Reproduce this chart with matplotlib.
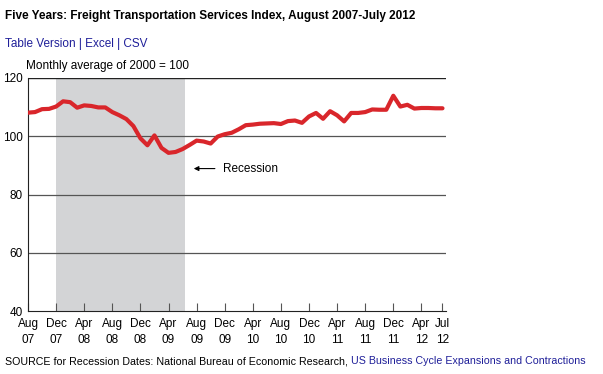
import matplotlib.pyplot as plt

plt.rcParams['font.family'] = ['Liberation Sans', 'DejaVu Sans']

# monthly index, Aug 2007 - Jul 2012
index_values = [108.1, 108.3, 109.3, 109.4, 110.2, 112.0, 111.7, 109.8, 110.6, 110.4,
                109.9, 109.9, 108.3, 107.2, 105.9, 103.5, 99.3, 96.9, 100.3, 96.0,
                94.3, 94.6, 95.6, 97.0, 98.5, 98.2, 97.5, 99.9, 100.7, 101.2,
                102.4, 103.8, 104.0, 104.3, 104.4, 104.5, 104.2, 105.2, 105.4, 104.6,
                106.8, 108.0, 106.0, 108.6, 107.2, 105.1, 108.0, 108.0, 108.3, 109.2,
                109.1, 109.1, 113.9, 110.2, 110.8, 109.5, 109.7, 109.7, 109.6, 109.6]
months = list(range(len(index_values)))

tick_pos = [0, 4, 8, 12, 16, 20, 24, 28, 32, 36, 40, 44, 48, 52, 56, 59]
tick_labels = ['Aug\n07', 'Dec\n07', 'Apr\n08', 'Aug\n08', 'Dec\n08', 'Apr\n09',
               'Aug\n09', 'Dec\n09', 'Apr\n10', 'Aug\n10', 'Dec\n10', 'Apr\n11',
               'Aug\n11', 'Dec\n11', 'Apr\n12', 'Jul\n12']
y_ticks = [40, 60, 80, 100, 120]

recession_start = 4     # Dec 2007
recession_end = 22.4    # Jun 2009

link_blue = '#1f1f99'

fig = plt.figure(figsize=(6.03, 3.74), dpi=100)
ax = fig.add_axes([28 / 603, 1 - 311 / 374, 418 / 603, 233 / 374])

ax.axvspan(recession_start, recession_end, color='#d3d4d6', lw=0, zorder=0)
for y in y_ticks[1:4]:
    ax.axhline(y, color='#555555', lw=0.9, zorder=1)
ax.axhline(120, color='#222222', lw=1.0, zorder=1)

ax.plot(months, index_values, color='#d9262b', lw=3.0, solid_capstyle='round',
        solid_joinstyle='round', zorder=3)

ax.set_xlim(0, 59.5)
ax.set_ylim(40, 120)
ax.set_yticks(y_ticks)
ax.set_xticks(tick_pos)
ax.set_xticklabels(tick_labels, linespacing=1.4)
ax.tick_params(axis='y', length=0, pad=4, labelsize=8.5)
ax.tick_params(axis='x', direction='in', length=6, width=0.8, color='#555555',
               pad=5, labelsize=8.5)
ax.spines['right'].set_visible(False)
ax.spines['top'].set_visible(False)
ax.spines['left'].set_color('#222222')
ax.spines['bottom'].set_color('#222222')

ax.annotate('', xy=(23.2, 88.9), xytext=(27.0, 88.9),
            arrowprops=dict(arrowstyle='-|>', color='black', lw=0.8,
                            mutation_scale=7))
ax.text(27.7, 88.9, 'Recession', fontsize=8.5, va='center', ha='left')

fig.text(5 / 603, 1 - 16 / 374, 'Five Years: Freight Transportation Services Index, August 2007-July 2012',
         fontsize=8.5, fontweight='bold', va='center', ha='left')
fig.text(5 / 603, 1 - 44 / 374, 'Table Version | Excel | CSV', fontsize=8.5,
         color=link_blue, va='center', ha='left')
fig.text(26 / 603, 1 - 66 / 374, 'Monthly average of 2000 = 100', fontsize=8.5,
         va='center', ha='left')

src = fig.text(5 / 603, 1 - 361 / 374, 'SOURCE for Recession Dates: National Bureau of Economic Research, ',
               fontsize=7.7, va='center', ha='left')
fig.canvas.draw()
bb = src.get_window_extent().transformed(fig.transFigure.inverted())
fig.text(bb.x1, 1 - 361 / 374, 'US Business Cycle Expansions and Contractions',
         fontsize=7.7, color=link_blue, va='center', ha='left')

fig.savefig('out.png', dpi=100)
